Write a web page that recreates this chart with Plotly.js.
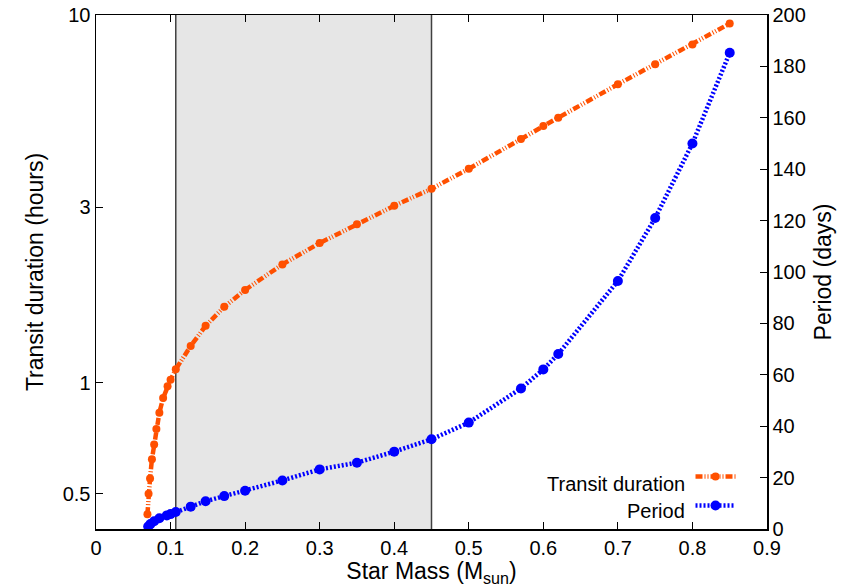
<!DOCTYPE html>
<html>
<head>
<meta charset="utf-8">
<script src="https://cdn.plot.ly/plotly-3.0.1.min.js"></script>
<style>html,body{margin:0;padding:0;background:#fff;}#chart{width:848px;height:588px;}</style>
</head>
<body>
<div id="chart"></div>
<script>
// Transit duration (hours), left log axis
const durationMass = [0.069, 0.0705, 0.0725, 0.075, 0.078, 0.081, 0.085, 0.09, 0.096, 0.1, 0.107, 0.127, 0.147, 0.172, 0.2, 0.25, 0.3, 0.35, 0.4, 0.45, 0.5, 0.57, 0.6, 0.62, 0.7, 0.75, 0.8, 0.85];
const durationHours = [0.44, 0.50, 0.55, 0.62, 0.68, 0.75, 0.83, 0.91, 0.98, 1.02, 1.09, 1.26, 1.43, 1.61, 1.79, 2.10, 2.40, 2.70, 3.03, 3.37, 3.82, 4.60, 4.99, 5.26, 6.48, 7.35, 8.32, 9.48];
// Period (days), right linear axis
const periodMass = [0.07, 0.073, 0.078, 0.085, 0.095, 0.1, 0.107, 0.127, 0.147, 0.172, 0.2, 0.25, 0.3, 0.35, 0.4, 0.45, 0.5, 0.57, 0.6, 0.62, 0.7, 0.75, 0.8, 0.85];
const periodDays = [1.0, 1.9, 3.0, 4.2, 5.3, 5.8, 6.6, 8.7, 10.8, 12.8, 14.9, 18.9, 23.2, 25.8, 30.1, 34.9, 41.4, 54.7, 62.1, 68.1, 96.5, 121.0, 150.0, 185.3];
// Highlighted mass range
const bandRange = [0.107, 0.45];
const seriesNames = ["Transit duration", "Period"];
const xTicks = [0, 0.1, 0.2, 0.3, 0.4, 0.5, 0.6, 0.7, 0.8, 0.9];
const yLeftTicks = [0.5, 1, 3, 10];

const FONT = "Liberation Sans, Arial, sans-serif";

const traces = [
  {
    x: durationMass, y: durationHours, name: " ", yaxis: "y",
    type: "scatter", mode: "lines+markers",
    line: {color: "#ff5000", width: 4.5, dash: "7px,2px,1px,2px,1px,2px"},
    marker: {color: "#ff5000", size: 8, symbol: "circle"},
    hoverinfo: "x+y"
  },
  {
    x: periodMass, y: periodDays, name: "  ", yaxis: "y2",
    type: "scatter", mode: "lines+markers",
    line: {color: "#0000ff", width: 4.5, dash: "2px,2px"},
    marker: {color: "#0000ff", size: 10, symbol: "circle"},
    hoverinfo: "x+y"
  }
];

const layout = {
  width: 848, height: 588,
  margin: {l: 96, r: 81, t: 15, b: 59},
  paper_bgcolor: "#fff", plot_bgcolor: "#fff",
  font: {family: FONT, size: 20, color: "#000"},
  showlegend: true,
  legend: {
    x: 0.886, y: 0.14, xanchor: "left", yanchor: "top",
    bgcolor: "rgba(0,0,0,0)", font: {size: 20},
    tracegroupgap: 0, itemwidth: 40
  },
  xaxis: {
    range: [0, 0.9], tickvals: xTicks, ticktext: xTicks.map(String),
    ticks: "inside", ticklen: 7, tickcolor: "#000", tickwidth: 1,
    showline: true, linecolor: "#000", linewidth: 1.5, mirror: "ticks",
    showgrid: false, zeroline: false,
    tickfont: {size: 20},
    title: {text: "Star Mass (M<sub>sun</sub>)", font: {size: 23}, standoff: 0}
  },
  yaxis: {
    type: "log", range: [Math.log10(0.401), 1],
    tickvals: yLeftTicks, ticktext: yLeftTicks.map(String),
    ticks: "inside", ticklen: 7, tickcolor: "#000",
    showline: true, linecolor: "#000", linewidth: 1.5,
    showgrid: false, zeroline: false,
    tickfont: {size: 20},
    title: {text: "Transit duration (hours)", font: {size: 23}, standoff: 12}
  },
  yaxis2: {
    overlaying: "y", side: "right",
    range: [0, 200], dtick: 20,
    ticks: "inside", ticklen: 7, tickcolor: "#000",
    showline: true, linecolor: "#000", linewidth: 1.5,
    showgrid: false, zeroline: false,
    tickfont: {size: 20},
    title: {text: "Period (days)", font: {size: 23}, standoff: 10}
  },
  shapes: [
    {type: "rect", xref: "x", yref: "paper", x0: bandRange[0], x1: bandRange[1], y0: 0, y1: 1,
     fillcolor: "#e6e6e6", line: {width: 0}, layer: "below"},
    {type: "line", xref: "x", yref: "paper", x0: bandRange[0], x1: bandRange[0], y0: 0, y1: 1,
     line: {color: "#404040", width: 1.5}, layer: "below"},
    {type: "line", xref: "x", yref: "paper", x0: bandRange[1], x1: bandRange[1], y0: 0, y1: 1,
     line: {color: "#404040", width: 1.5}, layer: "below"}
  ],
  annotations: [
    {xref: "paper", yref: "paper", x: 0.881, y: 0.088, xanchor: "right", yanchor: "middle",
     text: seriesNames[0], showarrow: false, font: {size: 20}},
    {xref: "paper", yref: "paper", x: 0.881, y: 0.035, xanchor: "right", yanchor: "middle",
     text: seriesNames[1], showarrow: false, font: {size: 20}}
  ]
};

Plotly.newPlot("chart", traces, layout, {displayModeBar: false, staticPlot: true});
</script>
</body>
</html>
